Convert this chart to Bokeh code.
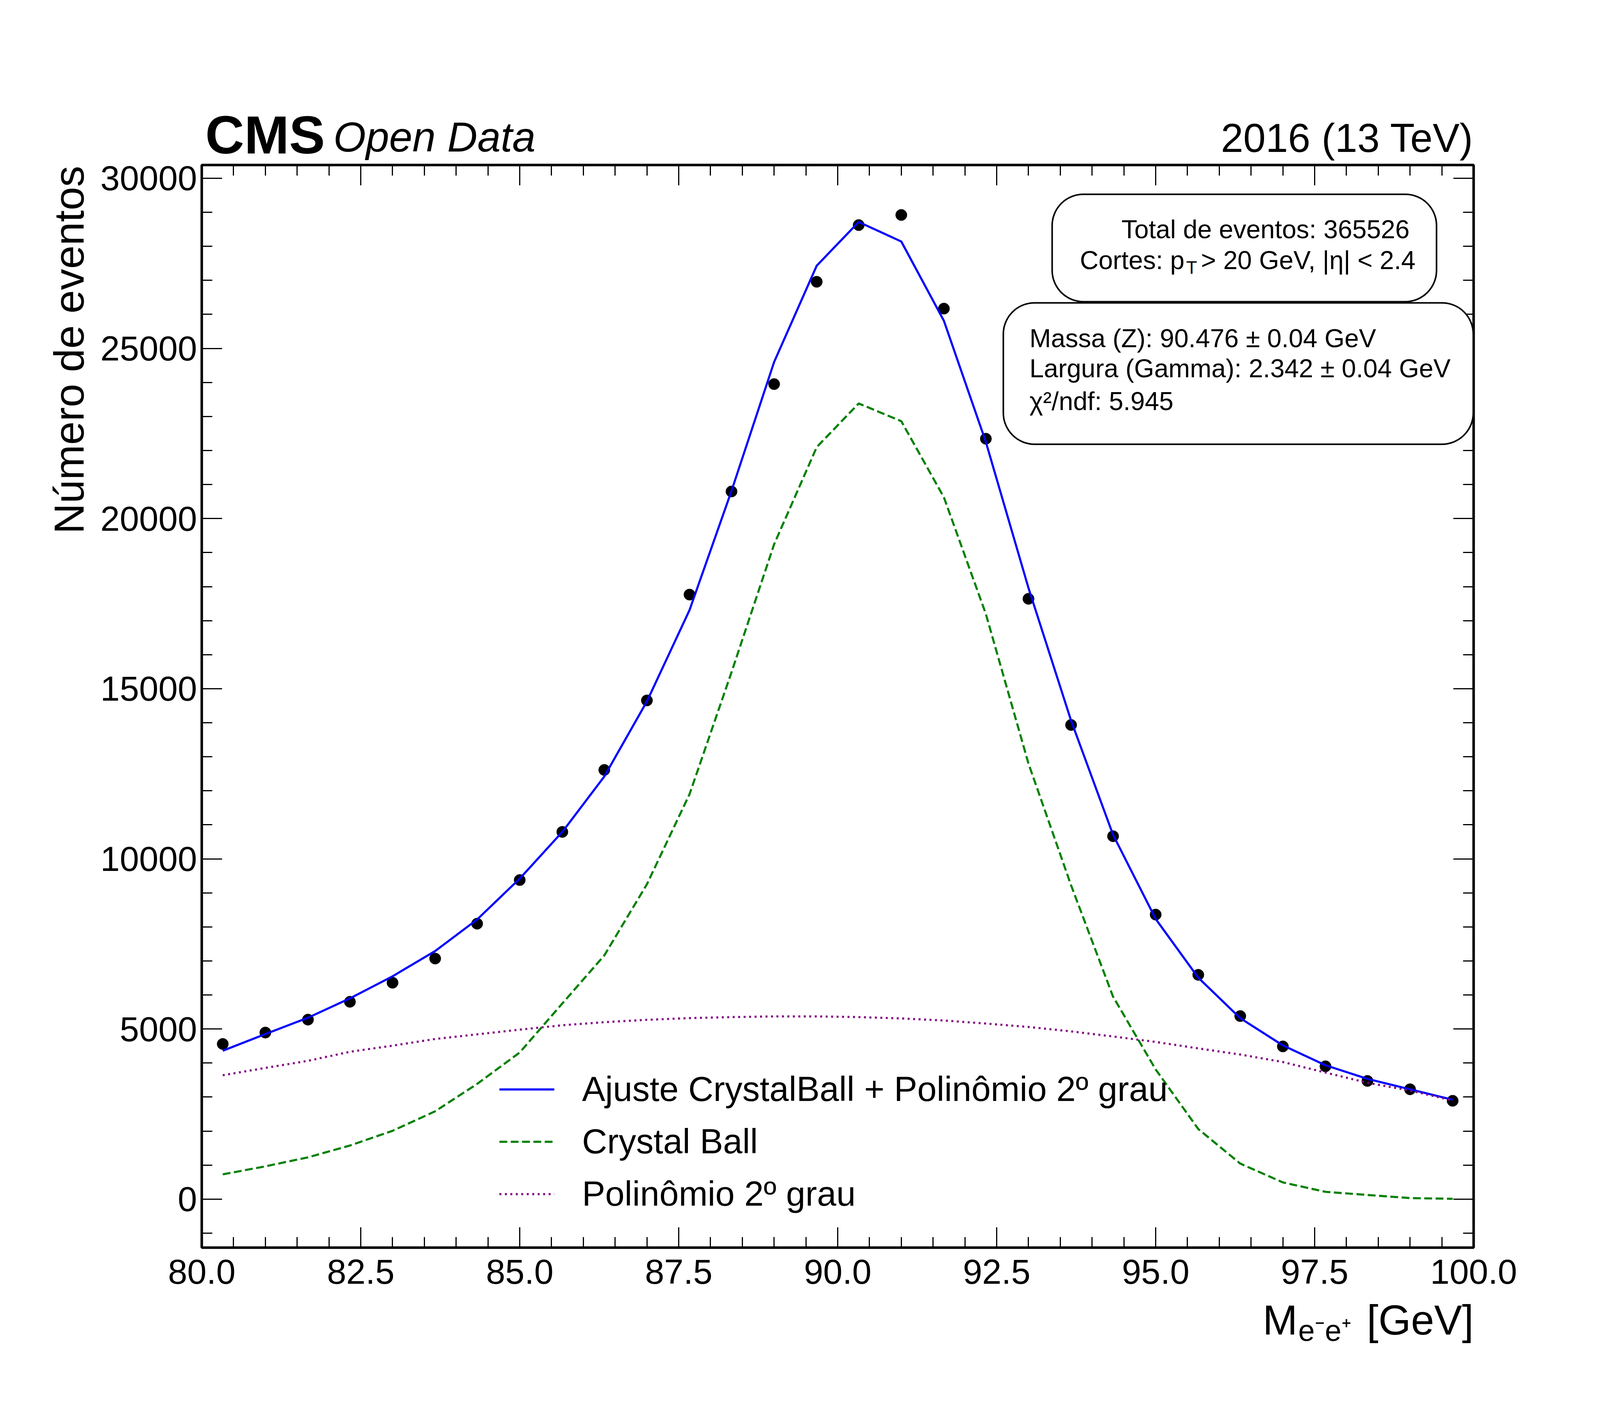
import numpy as np
from bokeh.plotting import figure
from bokeh.models import (Range1d, LinearAxis, FixedTicker, PrintfTickFormatter,
                          Label, BoxAnnotation, Legend, LegendItem)
from bokeh.embed import file_html
from bokeh.resources import INLINE

# bin centres of the e-e+ invariant mass histogram [GeV]
mass = [80.33, 81.0, 81.67, 82.33, 83.0, 83.67, 84.33, 85.0, 85.67, 86.33,
        87.0, 87.67, 88.33, 89.0, 89.67, 90.33, 91.0, 91.67, 92.33, 93.0,
        93.67, 94.33, 95.0, 95.67, 96.33, 97.0, 97.67, 98.33, 99.0, 99.67]

# events per bin (data points)
events = [4560, 4895, 5275, 5800, 6360, 7070, 8095, 9377, 10792, 12613,
          14656, 17766, 20796, 23952, 26959, 28624, 28922, 26170, 22346, 17642,
          13935, 10665, 8362, 6592, 5380, 4488, 3904, 3474, 3228, 2890]

# fitted total: Crystal Ball + 2nd degree polynomial
fit_total = [4361, 4850, 5331, 5900, 6548, 7291, 8217, 9420, 10792, 12420,
             14627, 17311, 20812, 24600, 27430, 28716, 28142, 25812, 22250, 17961,
             14063, 10708, 8235, 6508, 5318, 4519, 3935, 3535, 3228, 2920]

# Crystal Ball component
crystal_ball = [728, 964, 1228, 1576, 2008, 2582, 3386, 4310, 5750, 7162,
                9253, 11900, 15482, 19243, 22098, 23383, 22862, 20624, 17196, 12800,
                9222, 5950, 3812, 2060, 1045, 492, 215, 123, 31, 10]

# polynomial background component
poly2 = [3641, 3856, 4065, 4330, 4510, 4706, 4843, 4981, 5110, 5200,
         5270, 5320, 5350, 5370, 5370, 5350, 5310, 5250, 5160, 5060,
         4930, 4780, 4620, 4430, 4250, 4030, 3720, 3420, 3190, 2900]

x_major = [80.0, 82.5, 85.0, 87.5, 90.0, 92.5, 95.0, 97.5, 100.0]
y_major = [0, 5000, 10000, 15000, 20000, 25000, 30000]

FONT = "Liberation Sans"

p = figure(width=4184, height=3584, output_backend="svg", toolbar_location=None,
           x_range=Range1d(80, 100), y_range=Range1d(-1425, 30390),
           min_border_left=516, min_border_right=412,
           min_border_top=422, min_border_bottom=390,
           background_fill_color="white", border_fill_color="white")
p.grid.visible = False
p.outline_line_color = "black"
p.outline_line_width = 6

top_axis = LinearAxis()
right_axis = LinearAxis()
p.add_layout(top_axis, "above")
p.add_layout(right_axis, "right")

for ax in p.xaxis:
    ax.ticker = FixedTicker(ticks=x_major, minor_ticks=list(np.arange(80, 100.01, 0.5)))
    ax.formatter = PrintfTickFormatter(format="%.1f")
    ax.major_label_standoff = 30
for ax in p.yaxis:
    ax.ticker = FixedTicker(ticks=y_major, minor_ticks=list(range(-1000, 31000, 1000)))
    ax.formatter = PrintfTickFormatter(format="%d")
    ax.major_label_standoff = 12

for ax in p.xaxis + p.yaxis:
    ax.axis_line_width = 6
    ax.axis_line_color = "black"
    ax.major_tick_in = 52
    ax.major_tick_out = 0
    ax.minor_tick_in = 27
    ax.minor_tick_out = 0
    ax.major_tick_line_width = 3
    ax.minor_tick_line_width = 3
    ax.major_label_text_font = FONT
    ax.major_label_text_font_size = "89px"
    ax.major_label_text_color = "black"

# mirrored axes: ticks only
for ax in (top_axis, right_axis):
    ax.major_label_text_color = None
    ax.major_label_standoff = 0

# data and fit curves
p.scatter(mass, events, size=29, color="black")
r_fit = p.line(mass, fit_total, color="blue", line_width=5.4)
r_cb = p.line(mass, crystal_ball, color="green", line_width=5.4, line_dash="20 9")
r_pol = p.line(mass, poly2, color="purple", line_width=5.4, line_dash="5 9")

legend = Legend(items=[
    LegendItem(label="Ajuste CrystalBall + Polinômio 2º grau", renderers=[r_fit]),
    LegendItem(label="Crystal Ball", renderers=[r_cb]),
    LegendItem(label="Polinômio 2º grau", renderers=[r_pol]),
], location=(762, 86))
legend.label_text_font = FONT
legend.label_text_font_size = "89px"
legend.label_text_color = "black"
legend.glyph_width = 141
legend.glyph_height = 100
legend.label_height = 100
legend.label_standoff = 71
legend.spacing = 31
legend.padding = 0
legend.margin = 0
legend.border_line_color = None
legend.background_fill_alpha = 0
p.add_layout(legend)


# page pixel -> data coordinates, for placing the annotations
def xd(px):
    return 80 + (px - 524) / 162.8


def yd(py):
    return (3078 - py) * 11.477


# info boxes
p.add_layout(BoxAnnotation(left=xd(2701), right=xd(3685), top=yd(505), bottom=yd(780),
                           fill_color="white", fill_alpha=1, line_color="black",
                           line_alpha=1, line_width=4, border_radius=80))
p.add_layout(BoxAnnotation(left=xd(2576), right=xd(3779), top=yd(783), bottom=yd(1145),
                           fill_color="white", fill_alpha=1, line_color="black",
                           line_alpha=1, line_width=4, border_radius=80))


def put(text, px, py, size, align="left", style="normal", angle=0, side=None):
    # py / px is the text baseline; anchor on the middle of the glyphs
    if angle:
        px = px - 0.35 * size
    else:
        py = py - 0.35 * size
    lab = Label(x=xd(px), y=yd(py), text=text, text_font=FONT,
                text_font_size=f"{size}px", text_font_style=style,
                text_align=align, text_baseline="middle",
                text_color="black", angle=angle)
    # labels outside the frame go into a side panel so they are not clipped
    if side:
        p.add_layout(lab, side)
    else:
        p.add_layout(lab)


put("Total de eventos: 365526", 3616, 618, 66, align="right")
put("Cortes: p", 2772, 697, 66)
put("T", 3044, 709, 46)
put("> 20 GeV, |η| < 2.4", 3082, 697, 66)
put("Massa (Z): 90.476 ± 0.04 GeV", 2643, 897, 66)
put("Largura (Gamma): 2.342 ± 0.04 GeV", 2643, 974, 66)
put("χ²/ndf: 5.945", 2643, 1058, 66)

# CMS header
put("CMS", 533, 401, 138, style="bold", side="above")
put("Open Data", 861, 396, 107, style="italic", side="above")
put("2016 (13 TeV)", 3780, 397, 103, align="right", side="above")

# axis titles
put("Número de eventos", 222, 432, 108, align="right", angle=np.pi / 2, side="left")
put("M", 3240, 3425, 107, side="right")
put("e⁻e⁺", 3331, 3441, 76, side="right")
put("[GeV]", 3780, 3425, 107, align="right", side="below")

open("out.html", "w").write(file_html(p, INLINE))
